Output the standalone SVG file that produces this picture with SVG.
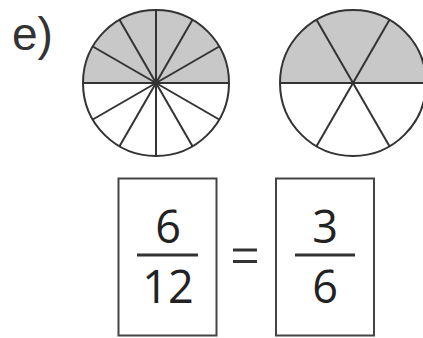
<svg xmlns="http://www.w3.org/2000/svg" width="423" height="338" viewBox="0 0 423 338">
<style>
.ln{stroke:#333;stroke-width:2;fill:none}
.sh{fill:#c8c8c8;stroke:none}
.box{fill:#fff;stroke:#444;stroke-width:2}
.num{font-family:"Open Sans","Noto Sans",sans-serif;font-size:45px;fill:#222;text-anchor:middle}
.bar{stroke:#333;stroke-width:3}
</style>
<rect width="423" height="338" fill="#fff"/>
<g id="label"><text x="12" y="50" font-family="Liberation Sans, Arial, sans-serif" font-size="46" fill="#333">e)</text></g>
<g id="circle12">
<path class="sh" d="M83 83 A73 73 0 0 1 229 83 Z"/>
<circle class="ln" cx="156" cy="83" r="73"/>
<g class="ln">
<line x1="83" y1="83" x2="229" y2="83"/>
<line x1="156" y1="10" x2="156" y2="156"/>
<line x1="92.8" y1="46.5" x2="219.2" y2="119.5"/>
<line x1="119.5" y1="19.8" x2="192.5" y2="146.2"/>
<line x1="192.5" y1="19.8" x2="119.5" y2="146.2"/>
<line x1="219.2" y1="46.5" x2="92.8" y2="119.5"/>
</g>
</g>
<g id="circle6">
<path class="sh" d="M280 83 A73 73 0 0 1 426 83 Z"/>
<circle class="ln" cx="353" cy="83" r="73"/>
<g class="ln">
<line x1="280" y1="83" x2="426" y2="83"/>
<line x1="316.5" y1="19.8" x2="389.5" y2="146.2"/>
<line x1="389.5" y1="19.8" x2="316.5" y2="146.2"/>
</g>
</g>
<g id="frac1">
<rect class="box" x="118.5" y="178.5" width="98" height="157"/>
<text class="num" x="168" y="243">6</text>
<line class="bar" x1="137" y1="255" x2="198" y2="255"/>
<text class="num" x="168" y="303">12</text>
</g>
<g id="equals">
<line class="bar" x1="233" y1="250" x2="257" y2="250"/>
<line class="bar" x1="233" y1="261.5" x2="257" y2="261.5"/>
</g>
<g id="frac2">
<rect class="box" x="276" y="178.5" width="98" height="157"/>
<text class="num" x="325" y="243">3</text>
<line class="bar" x1="295" y1="255" x2="355" y2="255"/>
<text class="num" x="325" y="303">6</text>
</g>
</svg>
